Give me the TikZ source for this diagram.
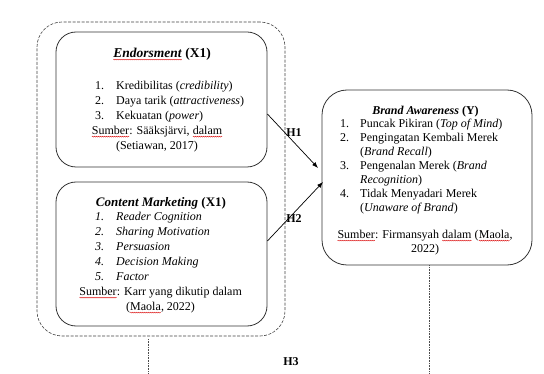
\documentclass[tikz,border=0pt]{standalone}
\usepackage{fontspec}
\setmainfont{Liberation Serif}
\usetikzlibrary{arrows.meta,decorations.pathmorphing}
\newcommand\sq[1]{\tikz[baseline=(w.base)]{\node[inner sep=0pt,outer sep=0pt,anchor=center](w){#1};\draw[red!85!black,line width=0.35pt,decorate,decoration={snake,amplitude=0.45pt,segment length=2pt}]([yshift=-1.6pt]w.base west)--([yshift=-1.6pt]w.base east);}}
\begin{document}
\begin{tikzpicture}[x=1pt,y=-1pt,
  box/.style={draw=black!80,line width=0.8pt,rounded corners=#1,inner sep=0pt},
  txt/.style={inner sep=0pt,anchor=base,font=\fontsize{12}{15}\selectfont},
  lst/.style={inner sep=0pt,anchor=base west,font=\fontsize{12}{15}\selectfont},
  ttl/.style={inner sep=0pt,anchor=base,font=\fontsize{13.5}{16}\selectfont\bfseries},
  hlab/.style={inner sep=0pt,anchor=base,font=\fontsize{12}{14}\selectfont\bfseries},
  arr/.style={line width=0.7pt,-{Latex[length=6pt,width=4.5pt]}},
  vdot/.style={densely dotted,line width=0.6pt,black!70}]
\useasboundingbox (0,0) rectangle (544,374);
% outer dashed group
\node[box=25pt,draw=black!75,line width=0.6pt,dash pattern=on 3pt off 1.5pt,minimum width=248pt,minimum height=314pt] (grp) at (161,179) {};
% boxes
\node[box=20pt,minimum width=211pt,minimum height=135pt] (endors) at (161.5,99.5) {};
\node[box=20pt,minimum width=211pt,minimum height=144pt] (content) at (161.5,254) {};
\node[box=25pt,minimum width=210pt,minimum height=175pt] (brand) at (427,177.5) {};
% Endorsment text
\node[ttl] (t1) at (162,58) {\sq{\textit{Endorsment}} (X1)};
\node[lst] (l1) at (95,90) {\begin{tabular}[t]{@{}p{21pt}@{}l@{}}
1. & Kredibilitas (\textit{credibility})\\
2. & Daya tarik (\textit{attractiveness})\\
3. & Kekuatan (\textit{power})
\end{tabular}};
\node[txt,align=center] (s1) at (157,150) {\sq{Sumber}: Sääksjärvi, \sq{dalam}\\(Setiawan, 2017)};
% Content Marketing text
\node[ttl,font=\fontsize{13}{16}\selectfont\bfseries] (t2) at (161,207) {\textit{Content Marketing} (X1)};
\node[lst] (l2) at (95,221) {\itshape\begin{tabular}[t]{@{}p{21pt}@{}l@{}}
1. & Reader Cognition\\
2. & Sharing Motivation\\
3. & Persuasion\\
4. & Decision Making\\
5. & Factor
\end{tabular}};
\node[txt,align=center] (s2) at (160.5,311) {\sq{Sumber}: Karr yang dikutip dalam\\(\sq{Maola}, 2022)};
% Brand Awareness text
\node[ttl,font=\fontsize{12}{14}\selectfont\bfseries] (t3) at (425.5,115) {\textit{Brand Awareness} (Y)};
\node[lst,font=\fontsize{12}{14}\selectfont] (l3) at (340,128) {\begin{tabular}[t]{@{}p{20pt}@{}l@{}}
1. & Puncak Pikiran (\textit{Top of Mind})\\
2. & Pengingatan Kembali Merek\\
   & (\textit{Brand Recall})\\
3. & Pengenalan Merek (\textit{Brand}\\
   & \textit{Recognition})\\
4. & Tidak Menyadari Merek\\
   & (\textit{Unaware of Brand})
\end{tabular}};
\node[txt,align=center,font=\fontsize{12}{14}\selectfont] (s3) at (425,253) {\sq{Sumber}: Firmansyah \sq{dalam} (\sq{Maola},\\2022)};
% arrows
\coordinate (a1s) at ([yshift=-14.5pt]endors.east);
\coordinate (a1e) at (318,168);
\coordinate (a2s) at ([yshift=13pt]content.east);
\coordinate (a2e) at (323,182);
\draw[arr] (a1s) -- (a1e);
\draw[arr] (a2s) -- (a2e);
\node[hlab] (h1) at (294,137) {H1};
\node[hlab] (h2) at (294,223) {H2};
\node[hlab] (h3) at (291,365) {H3};
% dotted verticals
\coordinate (d1e) at (148,374);
\coordinate (d2e) at (429,374);
\draw[vdot] (148,339) -- (d1e);
\draw[vdot] (brand.south -| d2e) -- (d2e);
\end{tikzpicture}
\end{document}
